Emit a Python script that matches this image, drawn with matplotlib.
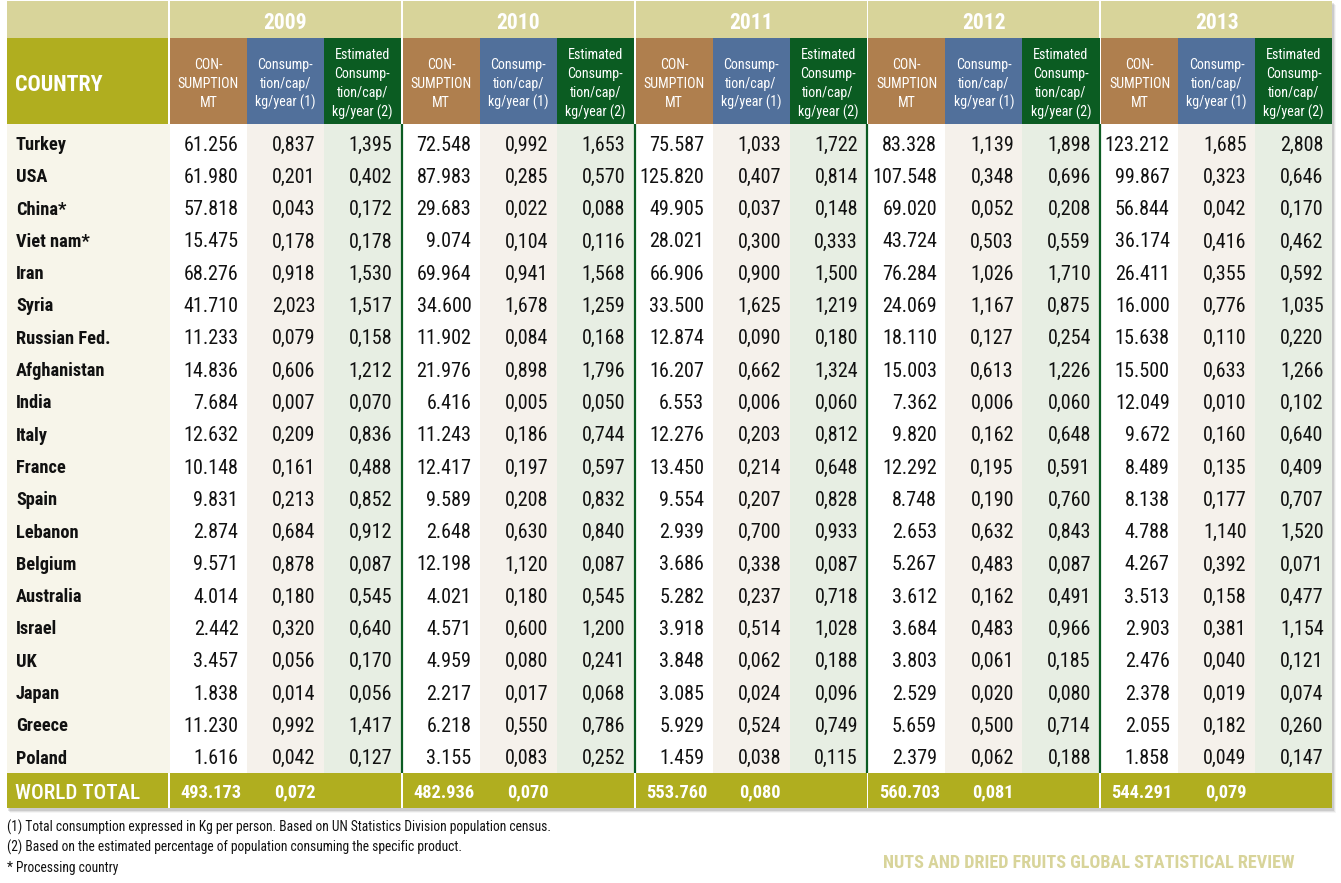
import matplotlib
matplotlib.use('Agg')
import matplotlib.pyplot as plt
from matplotlib.patches import Rectangle
from matplotlib import font_manager as fm

# ---------------- data ----------------
countries = ["Turkey", "USA", "China*", "Viet nam*", "Iran", "Syria", "Russian Fed.",
             "Afghanistan", "India", "Italy", "France", "Spain", "Lebanon", "Belgium",
             "Australia", "Israel", "UK", "Japan", "Greece", "Poland"]
years = ["2009", "2010", "2011", "2012", "2013"]

mt_2009 = [61256, 61980, 57818, 15475, 68276, 41710, 11233, 14836, 7684, 12632,
           10148, 9831, 2874, 9571, 4014, 2442, 3457, 1838, 11230, 1616]
cap1_2009 = [0.837, 0.201, 0.043, 0.178, 0.918, 2.023, 0.079, 0.606, 0.007, 0.209,
             0.161, 0.213, 0.684, 0.878, 0.180, 0.320, 0.056, 0.014, 0.992, 0.042]
cap2_2009 = [1.395, 0.402, 0.172, 0.178, 1.530, 1.517, 0.158, 1.212, 0.070, 0.836,
             0.488, 0.852, 0.912, 0.087, 0.545, 0.640, 0.170, 0.056, 1.417, 0.127]

mt_2010 = [72548, 87983, 29683, 9074, 69964, 34600, 11902, 21976, 6416, 11243,
           12417, 9589, 2648, 12198, 4021, 4571, 4959, 2217, 6218, 3155]
cap1_2010 = [0.992, 0.285, 0.022, 0.104, 0.941, 1.678, 0.084, 0.898, 0.005, 0.186,
             0.197, 0.208, 0.630, 1.120, 0.180, 0.600, 0.080, 0.017, 0.550, 0.083]
cap2_2010 = [1.653, 0.570, 0.088, 0.116, 1.568, 1.259, 0.168, 1.796, 0.050, 0.744,
             0.597, 0.832, 0.840, 0.087, 0.545, 1.200, 0.241, 0.068, 0.786, 0.252]

mt_2011 = [75587, 125820, 49905, 28021, 66906, 33500, 12874, 16207, 6553, 12276,
           13450, 9554, 2939, 3686, 5282, 3918, 3848, 3085, 5929, 1459]
cap1_2011 = [1.033, 0.407, 0.037, 0.300, 0.900, 1.625, 0.090, 0.662, 0.006, 0.203,
             0.214, 0.207, 0.700, 0.338, 0.237, 0.514, 0.062, 0.024, 0.524, 0.038]
cap2_2011 = [1.722, 0.814, 0.148, 0.333, 1.500, 1.219, 0.180, 1.324, 0.060, 0.812,
             0.648, 0.828, 0.933, 0.087, 0.718, 1.028, 0.188, 0.096, 0.749, 0.115]

mt_2012 = [83328, 107548, 69020, 43724, 76284, 24069, 18110, 15003, 7362, 9820,
           12292, 8748, 2653, 5267, 3612, 3684, 3803, 2529, 5659, 2379]
cap1_2012 = [1.139, 0.348, 0.052, 0.503, 1.026, 1.167, 0.127, 0.613, 0.006, 0.162,
             0.195, 0.190, 0.632, 0.483, 0.162, 0.483, 0.061, 0.020, 0.500, 0.062]
cap2_2012 = [1.898, 0.696, 0.208, 0.559, 1.710, 0.875, 0.254, 1.226, 0.060, 0.648,
             0.591, 0.760, 0.843, 0.087, 0.491, 0.966, 0.185, 0.080, 0.714, 0.188]

mt_2013 = [123212, 99867, 56844, 36174, 26411, 16000, 15638, 15500, 12049, 9672,
           8489, 8138, 4788, 4267, 3513, 2903, 2476, 2378, 2055, 1858]
cap1_2013 = [1.685, 0.323, 0.042, 0.416, 0.355, 0.776, 0.110, 0.633, 0.010, 0.160,
             0.135, 0.177, 1.140, 0.392, 0.158, 0.381, 0.040, 0.019, 0.182, 0.049]
cap2_2013 = [2.808, 0.646, 0.170, 0.462, 0.592, 1.035, 0.220, 1.266, 0.102, 0.640,
             0.409, 0.707, 1.520, 0.071, 0.477, 1.154, 0.121, 0.074, 0.260, 0.147]

world_mt = [493173, 482936, 553760, 560703, 544291]
world_cap = [0.072, 0.070, 0.080, 0.081, 0.079]

country_header = "COUNTRY"
total_label = "WORLD TOTAL"
col_headers = [["CON-", "SUMPTION", "MT"],
               ["Consump-", "tion/cap/", "kg/year (1)"],
               ["Estimated", "Consump-", "tion/cap/", "kg/year (2)"]]
footnotes = ["(1) Total consumption expressed in Kg per person. Based on UN Statistics Division population census.",
             "(2) Based on the estimated percentage of population consuming the specific product.",
             "* Processing country"]
source_text = "NUTS AND DRIED FRUITS GLOBAL STATISTICAL REVIEW"

mt_by_year = [mt_2009, mt_2010, mt_2011, mt_2012, mt_2013]
cap1_by_year = [cap1_2009, cap1_2010, cap1_2011, cap1_2012, cap1_2013]
cap2_by_year = [cap2_2009, cap2_2010, cap2_2011, cap2_2012, cap2_2013]

# ---------------- style ----------------
KHAKI = "#D8D49A"
OLIVE = "#B0AE1F"
BROWN = "#AF7F4E"
BLUE = "#51709B"
DGREEN = "#0B5C22"
CREAM = "#F7F5EA"
BEIGE = "#F5F1EB"
LGREEN = "#E7EEE3"
TXT = "#111111"

# pick a condensed sans family if one is installed
_available = {f.name for f in fm.fontManager.ttflist}
_prefs = ['Roboto Condensed', 'Liberation Sans Narrow', 'Archivo Narrow', 'PT Sans Narrow',
          'Arial Narrow', 'Fira Sans Condensed', 'IBM Plex Sans Condensed', 'Asap Condensed']
_main = next((p for p in _prefs if p in _available), 'DejaVu Sans')
FONT = [_main, 'DejaVu Sans']
SC = 1.0 if _main != 'DejaVu Sans' else 0.8


def fmt_mt(v):
    return f"{v:,}".replace(",", ".")


def fmt_cap(v):
    return f"{v:.3f}".replace(".", ",")


W, H = 1341, 883
fig = plt.figure(figsize=(W / 100, H / 100), dpi=100)
ax = fig.add_axes([0, 0, 1, 1])
ax.set_xlim(0, W)
ax.set_ylim(H, 0)
ax.axis('off')


def put(x, yc, s, size, color=TXT, ha='center', weight='normal'):
    size = size * SC
    ax.text(x, yc + 0.355 * size * 100 / 72, s, fontsize=size, color=color,
            ha=ha, va='baseline', fontweight=weight, family=FONT)


def rect(x, y, w, h, color, **kw):
    ax.add_patch(Rectangle((x, y), w, h, facecolor=color, edgecolor='none', **kw))


# layout
L = 7
CEND = 168
G0 = 170
GSTEP = 232.8
SUB = 77.0
GW = 3 * SUB
TOP = 1
YB = 38
HB = 124
NR = len(countries)
RH = 32.3
D0 = 126.5
DEND = D0 + NR * RH
TT = DEND
TB = 808
RIGHT = G0 + 4 * GSTEP + GW

# shadow
for k, a in enumerate([0.10, 0.07, 0.04]):
    rect(L + 1 + k, TOP + 2 + k, RIGHT - L + 1, TB - TOP + 1, "#000000", alpha=a)
rect(L, TOP, RIGHT - L, TB - TOP, "white")

# header: country column
rect(L, TOP, CEND - L, YB - TOP, KHAKI)
rect(L, YB, CEND - L, HB - YB, OLIVE)
put(L + 8, (YB + HB) / 2 + 2, country_header, 15.8, 'white', ha='left', weight='bold')

sub_colors = [BROWN, BLUE, DGREEN]
data_bg = ['white', BEIGE, LGREEN]

rect(L, HB, CEND - L + 2, DEND - HB, CREAM)

for gi, yr in enumerate(years):
    gx = G0 + gi * GSTEP
    rect(gx, TOP, GW, YB - TOP, KHAKI)
    put(gx + GW / 2, (TOP + YB) / 2 + 1.5, yr, 15.5, 'white', weight='bold')
    for si in range(3):
        sx = gx + si * SUB
        rect(sx, YB, SUB + 0.3, HB - YB, sub_colors[si])
        lines = col_headers[si]
        n = len(lines)
        yc = (YB + HB) / 2 + 2
        for li, ln in enumerate(lines):
            put(sx + SUB / 2, yc + (li - (n - 1) / 2) * 19, ln, 10.1, 'white')
        rect(sx, HB, SUB + 0.3, DEND - HB, data_bg[si])
    if gi < len(years) - 1:
        rect(gx + GW, HB, GSTEP - GW, DEND - HB, 'white')
        ax.plot([gx + GW + (GSTEP - GW) / 2] * 2, [HB, DEND], color=DGREEN,
                lw=1.6, solid_capstyle='butt')

# data rows
for ri, c in enumerate(countries):
    yc = D0 + RH * ri + RH / 2 + 0.8
    put(L + 9, yc, c, 13.2, TXT, ha='left', weight='bold')
    for gi in range(len(years)):
        gx = G0 + gi * GSTEP
        vals = [fmt_mt(mt_by_year[gi][ri]), fmt_cap(cap1_by_year[gi][ri]),
                fmt_cap(cap2_by_year[gi][ri])]
        for si, v in enumerate(vals):
            put(gx + (si + 1) * SUB - 8.5, yc, v, 14.5, TXT, ha='right')

# world total row
rect(L, TT, CEND - L, TB - TT, OLIVE)
put(L + 8, (TT + TB) / 2 + 1, total_label, 15.2, 'white', ha='left', weight='medium')
for gi in range(len(years)):
    gx = G0 + gi * GSTEP
    rect(gx, TT, GW + (0.3 if gi == len(years) - 1 else 0), TB - TT, OLIVE)
    ym = (TT + TB) / 2 + 1
    put(gx + SUB - 8.5 + 3, ym, fmt_mt(world_mt[gi]), 13.2, 'white', ha='right', weight='bold')
    put(gx + 2 * SUB - 8.5, ym, fmt_cap(world_cap[gi]), 13.2, 'white', ha='right', weight='bold')

# footnotes
for fi, ft in enumerate(footnotes):
    put(L, 827 + fi * 20, ft, 9.75, TXT, ha='left')

put(1295, 862, source_text, 13.1, KHAKI, ha='right', weight='bold')

fig.savefig("out.png", dpi=100, facecolor='white')
